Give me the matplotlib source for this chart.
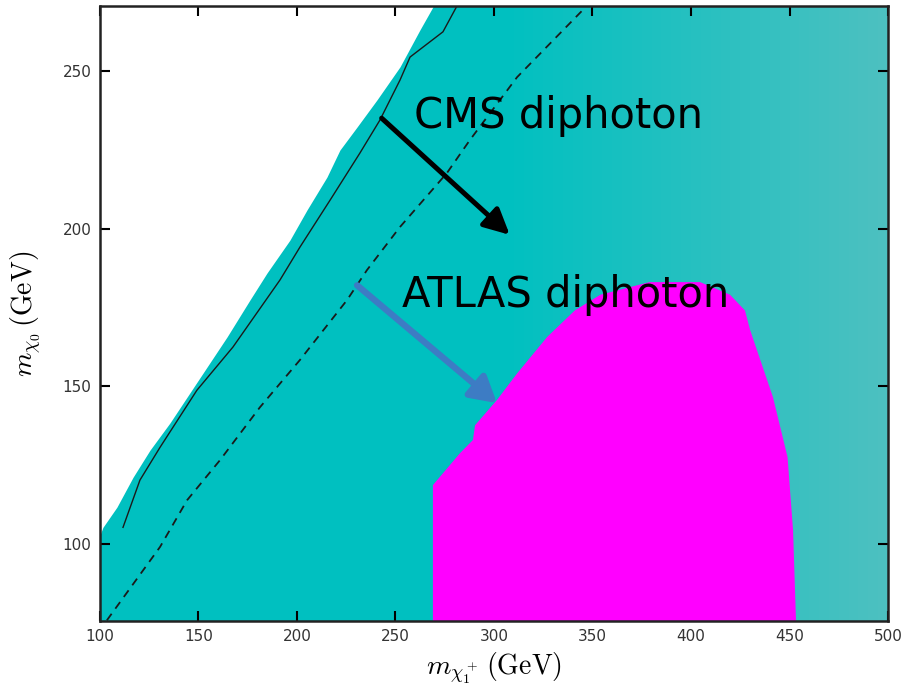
"""Chargino / neutralino mass plane with CMS and ATLAS diphoton regions."""

import matplotlib
matplotlib.use("Agg")
import matplotlib.pyplot as plt

plt.rcParams["mathtext.fontset"] = "cm"

# left edge of the allowed (cyan) scan region
edge_x = [100, 100, 101.5, 108.6, 116.8, 125.4, 135.5, 154.3, 164.5, 176.1,
          184.8, 196.4, 205.1, 215.2, 221.8, 230.5, 240.6, 252.3, 262.4, 269.0, 270]
edge_y = [70, 102.7, 105.2, 111.6, 121.1, 129.7, 138.3, 156.0, 165.6, 177.3,
          185.9, 196.3, 205.9, 216.3, 224.9, 232.2, 240.8, 251.3, 263.0, 270.3, 275]

# solid black contour
solid_x = [111.7, 120.3, 130.5, 149.2, 167.5, 191.4, 201.5, 216.8, 232.0,
           242.1, 252.3, 257.4, 274.1, 281.2]
solid_y = [105.2, 120.2, 130.6, 148.7, 162.4, 183.7, 194.1, 209.0, 224.0,
           234.4, 247.1, 254.4, 262.4, 270.6]

# dashed black contour
dash_x = [103.5, 130.5, 144.2, 160.9, 181.2, 201.5, 225.4, 235.5, 252.3,
          276.1, 287.8, 311.7, 345.2]
dash_y = [75.7, 99.0, 113.8, 126.5, 143.3, 158.3, 177.3, 186.8, 200.5,
          217.6, 228.1, 248.0, 269.4]

# ATLAS diphoton region (magenta)
atlas_x = [269, 269, 282.7, 289.3, 290.4, 301.5, 311.7, 327, 341, 354, 379,
           404.6, 419.8, 427.4, 430, 441.6, 449, 451.8, 453.3, 453.3]
atlas_y = [70, 118.6, 128.7, 132.9, 137.6, 145.6, 154, 165.6, 174, 179, 183,
           183, 179, 174, 167.8, 146.5, 127.5, 104.3, 75.5, 70]

# annotations: (text, text xy, arrow tail, arrow head)
cms_label = ("CMS diphoton", (259.5, 232), (243, 235), (308, 198))
atlas_label = ("ATLAS diphoton", (253.5, 175), (230.5, 182), (301.5, 144.6))

x_ticks = [100, 150, 200, 250, 300, 350, 400, 450, 500]
y_ticks = [100, 150, 200, 250]

fig = plt.figure(figsize=(9.03, 6.87), dpi=100)
ax = fig.add_axes([0.1107, 0.0961, 0.8727, 0.8952])

cyan = "#00c0c0"
ax.fill_betweenx(edge_y, edge_x, 510, color=cyan, lw=0, zorder=1)

# scan points thin out to the right: lighten the cyan gradually
for xmin in range(310, 500, 5):
    ax.axvspan(xmin, 510, color="white", alpha=0.013, lw=0, zorder=1.5)

ax.fill(atlas_x, atlas_y, color="#ff00ff", lw=0, zorder=2)

ax.plot(solid_x, solid_y, color="#1a1a1a", lw=1.0, zorder=3)
ax.plot(dash_x, dash_y, color="#1a1a1a", lw=1.3, ls=(0, (4.5, 3.5)), zorder=3)

for (label, txy, tail, head), col, lw, hw in [
    (cms_label, "black", 3.6, 0.35),
    (atlas_label, "#3d7cc4", 4.6, 0.4),
]:
    ax.text(txy[0], txy[1], label, fontsize=30, family="DejaVu Sans",
            color="black", zorder=5)
    ax.annotate("", xy=head, xytext=tail, zorder=4,
                arrowprops=dict(arrowstyle=f"-|>,head_length=0.7,head_width={hw}",
                                color=col, lw=lw, shrinkA=0, shrinkB=0,
                                mutation_scale=22))

ax.set_xlim(100, 500)
ax.set_ylim(75.5, 270.6)
ax.set_xticks(x_ticks)
ax.set_yticks(y_ticks)
ax.tick_params(direction="in", top=True, right=True, length=7, width=1.5,
               labelsize=11, labelcolor="#333333", pad=6)
for sp in ax.spines.values():
    sp.set_linewidth(1.8)
    sp.set_color("#222222")
    sp.set_zorder(6)

ax.set_xlabel(r"$m_{\chi_1^+}\,(\mathrm{GeV})$", fontsize=20, labelpad=4)
ax.set_ylabel(r"$m_{\chi_0}\,(\mathrm{GeV})$", fontsize=20, labelpad=14)

fig.savefig("out.png", dpi=100)
